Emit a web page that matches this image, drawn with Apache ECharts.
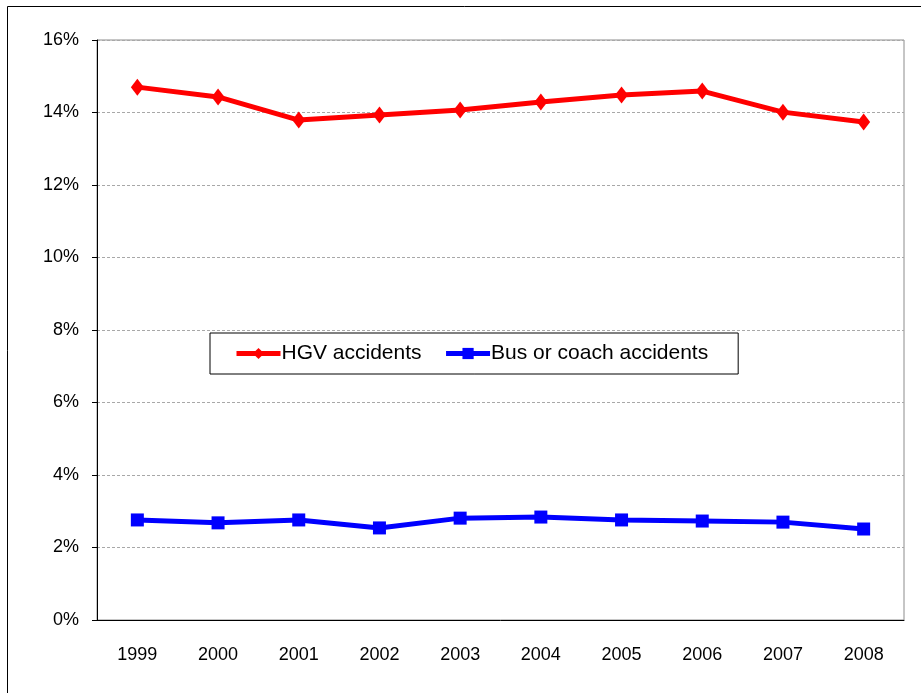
<!DOCTYPE html>
<html>
<head>
<meta charset="utf-8">
<script src="https://cdn.jsdelivr.net/npm/echarts@6/dist/echarts.min.js"></script>
<style>
  html, body { margin: 0; padding: 0; background: #fff; }
  #chart { width: 921px; height: 693px; }
</style>
</head>
<body>
<div id="chart"></div>
<script>
const years = ['1999', '2000', '2001', '2002', '2003', '2004', '2005', '2006', '2007', '2008']
const hgv = [14.70, 14.43, 13.79, 13.93, 14.07, 14.29, 14.48, 14.59, 14.01, 13.74]
const bus = [2.76, 2.68, 2.76, 2.54, 2.81, 2.84, 2.76, 2.73, 2.70, 2.51]

const chart = echarts.init(document.getElementById('chart'))
const font = 'Liberation Sans, Arial, sans-serif'

chart.setOption({
  animation: false,
  graphic: [{
    type: 'rect',
    shape: { x: 7.5, y: 6.5, width: 1000, height: 1000 },
    style: { fill: 'none', stroke: '#000', lineWidth: 1 }
  }],
  grid: {
    left: 97, right: 17, top: 40, bottom: 73,
    show: true, borderColor: '#8c8c8c', borderWidth: 1
  },
  legend: {
    left: 210,
    top: 333,
    width: 527,
    padding: [10, 30, 10, 24],
    borderColor: '#000',
    borderWidth: 1,
    itemGap: 22,
    itemWidth: 44,
    itemHeight: 14,
    lineStyle: { width: 5 },
    textStyle: { fontFamily: font, fontSize: 21, color: '#000', padding: [0, 0, 0, -4] },
    data: ['HGV accidents', 'Bus or coach accidents']
  },
  xAxis: {
    type: 'category',
    data: years,
    boundaryGap: true,
    axisLine: { lineStyle: { color: '#000', width: 1 } },
    axisTick: { length: 8, lineStyle: { color: '#000' } },
    axisLabel: { fontFamily: font, fontSize: 18, color: '#000', margin: 26 }
  },
  yAxis: {
    type: 'value',
    min: 0,
    max: 16,
    interval: 2,
    axisLine: { show: true, lineStyle: { color: '#000', width: 1 } },
    axisTick: { show: true, length: 5, lineStyle: { color: '#000' } },
    axisLabel: { fontFamily: font, fontSize: 18, color: '#000', margin: 18, formatter: '{value}%' },
    splitLine: { lineStyle: { color: '#a8a8a8', type: [3, 2], width: 1 } }
  },
  series: [
    {
      name: 'HGV accidents',
      type: 'line',
      data: hgv,
      symbol: 'diamond',
      symbolSize: [13, 17],
      lineStyle: { color: '#ff0000', width: 5 },
      itemStyle: { color: '#ff0000' }
    },
    {
      name: 'Bus or coach accidents',
      type: 'line',
      data: bus,
      symbol: 'rect',
      symbolSize: 13,
      lineStyle: { color: '#0000ff', width: 5 },
      itemStyle: { color: '#0000ff' }
    }
  ]
})
</script>
</body>
</html>
